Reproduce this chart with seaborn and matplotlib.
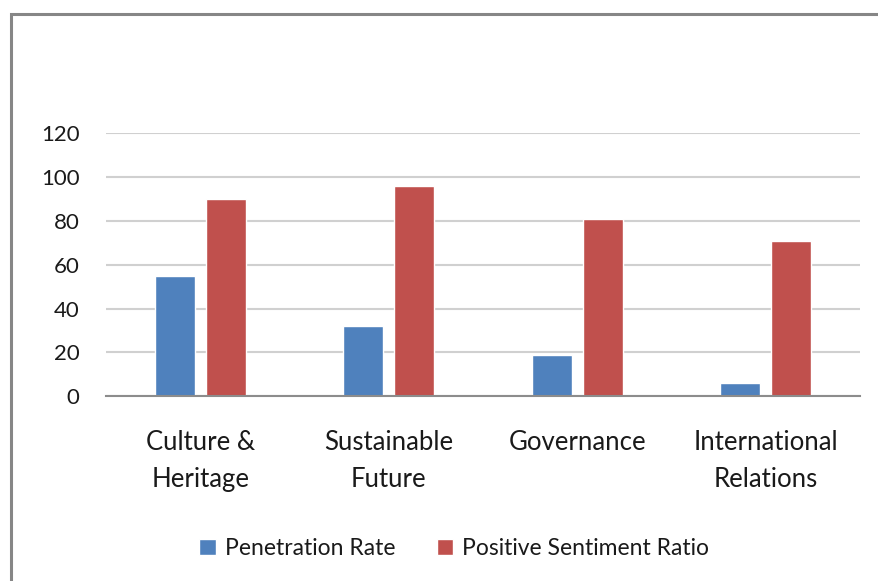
import matplotlib
matplotlib.use("Agg")
import matplotlib.pyplot as plt
import pandas as pd
import seaborn as sns
from matplotlib.patches import Rectangle

categories = ["Culture &\nHeritage", "Sustainable\nFuture", "Governance", "International\nRelations"]
penetration = [55, 32, 19, 6]
sentiment = [90, 96, 81, 71]
series = ["Penetration Rate", "Positive Sentiment Ratio"]
colors = ["#4F81BD", "#C0504D"]

df = pd.DataFrame({
    "category": categories * 2,
    "value": penetration + sentiment,
    "series": [series[0]] * 4 + [series[1]] * 4,
})

sns.set_style("white")
plt.rcParams["font.family"] = ["Lato", "DejaVu Sans"]

fig = plt.figure(figsize=(8.79, 5.81), dpi=100)
ax = fig.add_axes([0.1206, 0.318, 0.8578, 0.4527])

sns.barplot(data=df, x="category", y="value", hue="series", palette=colors,
            width=0.54, gap=0.21, ax=ax, saturation=1, legend=True)

ax.set_ylim(0, 120)
ax.set_yticks(range(0, 121, 20))
ax.set_xlim(-0.5, 3.5)
ax.yaxis.grid(True, color="#D0D0D0", linewidth=1.5)
ax.set_axisbelow(True)
for s in ["top", "right", "left"]:
    ax.spines[s].set_visible(False)
ax.spines["bottom"].set_color("#8C8C8C")
ax.spines["bottom"].set_linewidth(1.5)
ax.tick_params(axis="y", length=0, pad=19, labelsize=16, labelcolor="#1a1a1a")
ax.tick_params(axis="x", length=0, pad=24, labelsize=18.5, labelcolor="#1a1a1a")
for lab in ax.get_xticklabels():
    lab.set_linespacing(1.6)
ax.set_xlabel("")
ax.set_ylabel("")

leg = ax.legend(loc="center", bbox_to_anchor=(0.462, -0.58), ncol=2, frameon=False,
                fontsize=16.5, handlelength=0.72, handleheight=0.72,
                handletextpad=0.4, columnspacing=1.8)
for t in leg.get_texts():
    t.set_color("#1a1a1a")

# outer chart frame
fig.patches.append(Rectangle((11 / 879, -0.05), 1.2, 1 - 14 / 581 + 0.05,
                             transform=fig.transFigure, fill=False,
                             edgecolor="#868686", linewidth=2.2))

fig.savefig("out.png", dpi=100)
